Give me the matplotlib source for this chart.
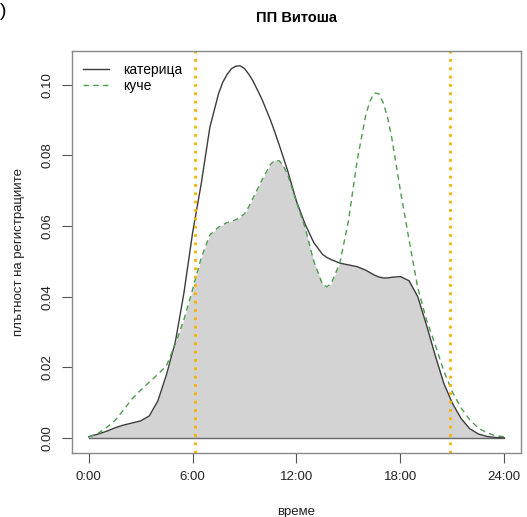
import matplotlib
matplotlib.use("Agg")
import matplotlib.pyplot as plt
import numpy as np

plt.rcParams['font.family'] = ['Liberation Sans', 'DejaVu Sans']

# hours of the day (half-hourly, denser near the peaks)
hours = [0.0, 0.5, 1.0, 1.5, 2.0, 2.5, 3.0, 3.5, 4.0, 4.5, 5.0, 5.5,
         6.0, 6.5, 7.0, 7.5, 7.75, 8.0, 8.25, 8.5, 8.75, 9.0, 9.25, 9.5,
         10.0, 10.5, 10.75, 11.0, 11.25, 11.5, 12.0, 12.5, 13.0, 13.5, 13.75,
         14.0, 14.5, 15.0, 15.5, 16.0, 16.25, 16.5, 16.75, 17.0, 17.25, 17.5,
         18.0, 18.5, 19.0, 19.5, 20.0, 20.5, 21.0, 21.5, 22.0, 22.5, 23.0,
         23.5, 24.0]

# density of registrations - squirrel
squirrel = [0.0003, 0.0010, 0.0018, 0.0028, 0.0036, 0.0042, 0.0048, 0.0062,
            0.0105, 0.0180, 0.0270, 0.0410, 0.0580, 0.0720, 0.0880, 0.0975,
            0.1008, 0.1030, 0.1046, 0.1053, 0.1054, 0.1046, 0.1030, 0.1010,
            0.0960, 0.0900, 0.0866, 0.0830, 0.0793, 0.0755,
            0.0670, 0.0605, 0.0553, 0.0520, 0.0511,
            0.0505, 0.0495, 0.0490, 0.0485, 0.0475, 0.0468, 0.0461, 0.0456,
            0.0453, 0.0453, 0.0455,
            0.0457, 0.0445, 0.0400, 0.0320, 0.0235, 0.0155, 0.0098, 0.0055,
            0.0026, 0.0011, 0.0004, 0.0001, 0.0000]

# density of registrations - dog
dog = [0.0003, 0.0011, 0.0028, 0.0048, 0.0078, 0.0110, 0.0135, 0.0158,
       0.0180, 0.0205, 0.0265, 0.0335, 0.0420, 0.0510, 0.0575, 0.0597,
       0.0604, 0.0610, 0.0614, 0.0618, 0.0625, 0.0635, 0.0655, 0.0680,
       0.0730, 0.0775, 0.0786, 0.0785, 0.0770, 0.0745,
       0.0668, 0.0595, 0.0500, 0.0435, 0.0428,
       0.0437, 0.0495, 0.0615, 0.0785, 0.0915, 0.0955, 0.0977, 0.0975,
       0.0950, 0.0910, 0.0850,
       0.0700, 0.0560, 0.0425, 0.0335, 0.0265, 0.0190, 0.0130, 0.0085,
       0.0051, 0.0028, 0.0014, 0.0006, 0.0003]

sunrise = 6.17
sunset = 20.84

xticks = [0, 6, 12, 18, 24]
xticklabels = ["0:00", "6:00", "12:00", "18:00", "24:00"]
yticks = [0.00, 0.02, 0.04, 0.06, 0.08, 0.10]

hours = np.array(hours)
squirrel = np.array(squirrel)
dog = np.array(dog)

fig = plt.figure(figsize=(5.27, 5.17), dpi=100)
ax = fig.add_axes([0.1366, 0.1244, 0.852, 0.777])

overlap = np.minimum(squirrel, dog)
ax.fill_between(hours, 0, overlap, color='#d3d3d3', linewidth=0)
ax.plot([hours[0], hours[-1]], [0, 0], color='#666666', lw=1)

ax.plot(hours, squirrel, color='#3c3c3c', lw=1, label='катерица')
ax.plot(hours, dog, color='#4f9a4f', lw=1, dashes=(4, 3), label='куче')

ax.axvline(sunrise, color='#ffb000', lw=2, ls=(0, (1, 2)))
ax.axvline(sunset, color='#ffb000', lw=2, ls=(0, (1, 2)))

ax.set_xlim(-0.96, 24.96)
ax.set_ylim(-0.0042, 0.1096)
ax.set_xticks(xticks)
ax.set_xticklabels(xticklabels)
ax.set_yticks(yticks)
ax.set_yticklabels(["%.2f" % v for v in yticks], rotation=90, va='center')
ax.tick_params(direction='out', length=7, width=0.8, colors='#555555',
               labelcolor='#222222', labelsize=9.5, pad=6)

for s in ax.spines.values():
    s.set_color('#888888')
    s.set_linewidth(1)

ax.set_xlabel('време', fontsize=9.5, labelpad=17, color='#222222')
ax.set_ylabel('плътност на регистрациите', fontsize=9.5, labelpad=12,
              color='#222222')
ax.set_title('ПП Витоша', fontsize=10.5, fontweight='bold', pad=21)

ax.legend(loc='upper left', bbox_to_anchor=(0.012, 0.985), borderaxespad=0,
          frameon=False, fontsize=10, handlelength=1.9, labelspacing=0.2,
          handletextpad=1.0)

fig.text(0.0, 0.995, ')', fontsize=14, va='top', ha='left')

fig.savefig('out.png', dpi=100)
